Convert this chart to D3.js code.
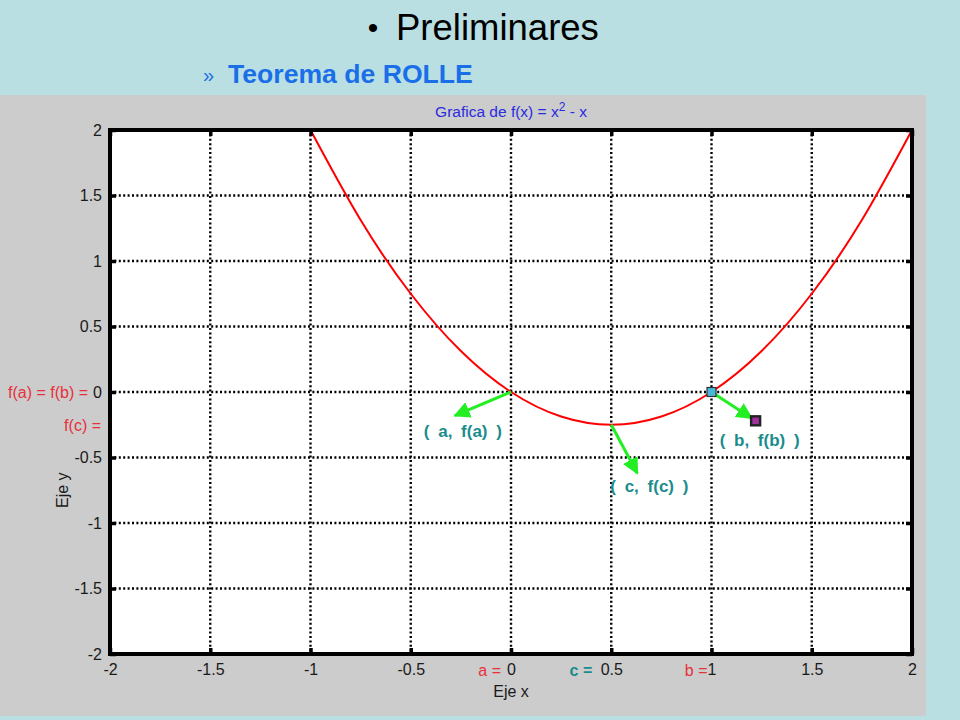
<!DOCTYPE html>
<html><head><meta charset="utf-8">
<script src="https://cdn.jsdelivr.net/npm/d3@7"></script>
<style>
html,body{margin:0;padding:0;background:#b9dfe3;}
svg{display:block;font-family:"Liberation Sans",Arial,sans-serif;}
</style></head>
<body>
<svg id="c" width="960" height="720"></svg>
<script>
// ---- data ----
const xTicks = [-2,-1.5,-1,-0.5,0,0.5,1,1.5,2];
const yTicks = [-2,-1.5,-1,-0.5,0,0.5,1,1.5,2];
const curveX = [-1,-0.75,-0.5,-0.25,0,0.25,0.5,0.75,1,1.25,1.5,1.75,2];
const curveY = [2,1.3125,0.75,0.3125,0,-0.1875,-0.25,-0.1875,0,0.3125,0.75,1.3125,2];
const arrowFrom = [[0,0],[0.5,-0.25],[1,0]];
const arrowTo = [[-0.28,-0.18],[0.63,-0.62],[1.2,-0.2]];
const pointLabels = ["( a, f(a) )","( c, f(c) )","( b, f(b) )"];
const pointLabelPos = [[-0.24,-0.34],[0.69,-0.76],[1.24,-0.41]];
const markerPts = [[1,0],[1.22,-0.22]];
const chartTitle = "Grafica de f(x) = x";
const slideTitle = "Preliminares";
const slideSub = "Teorema de ROLLE";

const svg = d3.select("#c");
// header
svg.append("text").attr("x",373).attr("y",38).attr("text-anchor","middle")
  .attr("font-size",30).attr("fill","#000").text("•");
svg.append("text").attr("x",396).attr("y",40).attr("font-size",36.5).attr("fill","#000").text(slideTitle);
svg.append("text").attr("x",203).attr("y",82).attr("font-size",20).attr("fill","#1a6fe8").text("»");
svg.append("text").attr("x",228).attr("y",83).attr("font-size",26.6).attr("font-weight","bold")
  .attr("fill","#1a6fe8").text(slideSub);

// gray panel
svg.append("rect").attr("x",0).attr("y",95).attr("width",926).attr("height",621).attr("fill","#cccccc");

const x = d3.scaleLinear().domain([-2,2]).range([110,912]);
const y = d3.scaleLinear().domain([-2,2]).range([654,130]);

svg.append("rect").attr("x",x(-2)).attr("y",y(2)).attr("width",x(2)-x(-2)).attr("height",y(-2)-y(2)).attr("fill","#fff");

// grid
const g = svg.append("g");
g.selectAll(".gx").data(xTicks.filter(d=>d>-2&&d<2)).join("line")
  .attr("x1",d=>x(d)).attr("x2",d=>x(d)).attr("y1",y(2)).attr("y2",y(-2))
  .attr("stroke","#000").attr("stroke-width",2.4).attr("stroke-dasharray","2,2.4");
g.selectAll(".gy").data(yTicks.filter(d=>d>-2&&d<2)).join("line")
  .attr("y1",d=>y(d)).attr("y2",d=>y(d)).attr("x1",x(-2)).attr("x2",x(2))
  .attr("stroke","#000").attr("stroke-width",2.4).attr("stroke-dasharray","2,2.4");

// curve
const line = d3.line().x((d,i)=>x(curveX[i])).y(d=>y(d)).curve(d3.curveNatural);
svg.append("path").attr("d",line(curveY)).attr("fill","none").attr("stroke","#ff0000").attr("stroke-width",2);

// frame
svg.append("rect").attr("x",x(-2)).attr("y",y(2)).attr("width",x(2)-x(-2)).attr("height",y(-2)-y(2))
  .attr("fill","none").attr("stroke","#000").attr("stroke-width",4);

// axes (ticks inside)
const axB = d3.axisBottom(x).tickValues(xTicks).tickSize(-6).tickPadding(10)
  .tickFormat(d=>String(d));
const axT = d3.axisTop(x).tickValues(xTicks).tickSize(-6).tickFormat("");
const axL = d3.axisLeft(y).tickValues(yTicks).tickSize(-6).tickPadding(8).tickFormat(d=>String(d));
const axR = d3.axisRight(y).tickValues(yTicks).tickSize(-6).tickFormat("");
function styleAx(sel){
  sel.select(".domain").remove();
  sel.selectAll(".tick line").attr("stroke","#000").attr("stroke-width",3.5);
  sel.selectAll(".tick text").attr("fill","#1a1a1a").attr("font-size",16)
    .attr("font-family","'Liberation Sans',Arial,sans-serif");
}
svg.append("g").attr("transform",`translate(0,${y(-2)})`).call(axB).call(styleAx);
svg.append("g").attr("transform",`translate(0,${y(2)})`).call(axT).call(styleAx);
svg.append("g").attr("transform",`translate(${x(-2)},0)`).call(axL).call(styleAx);
svg.append("g").attr("transform",`translate(${x(2)},0)`).call(axR).call(styleAx);

// special tick annotations
const lab = svg.append("g").attr("font-size",16);
lab.append("text").attr("x",x(0)-10).attr("y",y(-2)+22).attr("text-anchor","end").attr("fill","#e8303a").text("a =");
lab.append("text").attr("x",x(0.5)-19).attr("y",y(-2)+22).attr("text-anchor","end").attr("fill","#1b8c8c").attr("font-weight","bold").text("c =");
lab.append("text").attr("x",x(1)-4).attr("y",y(-2)+22).attr("text-anchor","end").attr("fill","#e8303a").text("b =");
lab.append("text").attr("x",88).attr("y",y(0)+6).attr("text-anchor","end").attr("fill","#e8303a").text("f(a) = f(b) =");
lab.append("text").attr("x",101).attr("y",y(-0.25)+6).attr("text-anchor","end").attr("fill","#e8303a").text("f(c) =");

// axis titles
svg.append("text").attr("x",x(0)).attr("y",697).attr("text-anchor","middle").attr("font-size",16).attr("fill","#1a1a1a").text("Eje x");
svg.append("text").attr("transform",`translate(68,${y(-0.75)}) rotate(-90)`).attr("text-anchor","middle").attr("font-size",16).attr("fill","#1a1a1a").text("Eje y");

// chart title
const t = svg.append("text").attr("x",x(0)).attr("y",117).attr("text-anchor","middle").attr("font-size",15.5).attr("fill","#2a2ae0");
t.append("tspan").text(chartTitle);
t.append("tspan").attr("dy",-6).attr("font-size",12).text("2");
t.append("tspan").attr("dy",6).text(" - x");

// arrows
const defs = svg.append("defs");
defs.append("marker").attr("id","ah").attr("viewBox","0 0 10 10").attr("refX",9).attr("refY",5)
  .attr("markerWidth",5.5).attr("markerHeight",5.5).attr("orient","auto").attr("markerUnits","strokeWidth")
  .append("path").attr("d","M0,0 L10,5 L0,10 z").attr("fill","#22ee22");
svg.selectAll(".arr").data(arrowFrom).join("line")
  .attr("x1",d=>x(d[0])).attr("y1",d=>y(d[1]))
  .attr("x2",(d,i)=>x(arrowTo[i][0])).attr("y2",(d,i)=>y(arrowTo[i][1]))
  .attr("stroke","#22ee22").attr("stroke-width",3).attr("marker-end","url(#ah)");

// markers
svg.append("rect").attr("x",x(markerPts[0][0])-4.5).attr("y",y(markerPts[0][1])-4.5).attr("width",9).attr("height",9)
  .attr("fill","#4ab8d8").attr("stroke","#333").attr("stroke-width",1.2);
svg.append("rect").attr("x",x(markerPts[1][0])-4.5).attr("y",y(markerPts[1][1])-4.5).attr("width",9).attr("height",9)
  .attr("fill","#a030a0").attr("stroke","#222").attr("stroke-width",2.4);

// point labels
svg.selectAll(".pl").data(pointLabels).join("text")
  .attr("x",(d,i)=>x(pointLabelPos[i][0])).attr("y",(d,i)=>y(pointLabelPos[i][1]))
  .attr("text-anchor","middle").attr("font-size",17).attr("font-weight","bold")
  .attr("word-spacing",4).attr("fill","#1b8c8c").text(d=>d);
</script>
</body></html>
